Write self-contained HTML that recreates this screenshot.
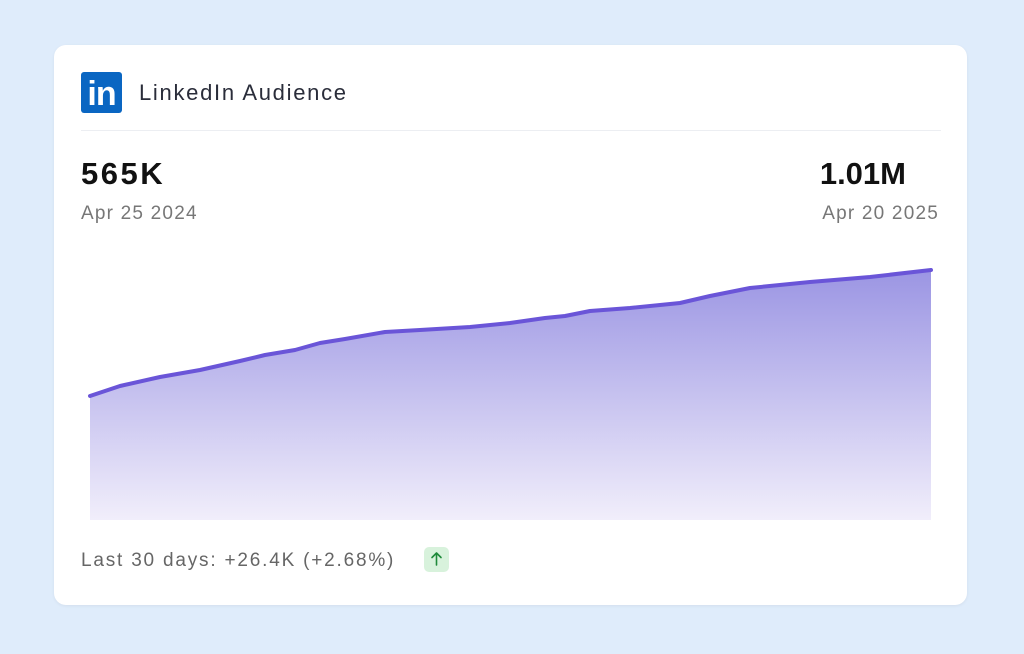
<!DOCTYPE html>
<html><head><style>
body{margin:0;width:1024px;height:654px;background:#dfecfb;font-family:"Liberation Sans",sans-serif;position:relative;overflow:hidden}
.card{position:absolute;left:54px;top:45px;width:913px;height:560px;background:#fff;border-radius:12px;box-shadow:0 1px 3px rgba(0,0,0,.06)}
.t{position:absolute;white-space:nowrap}
</style></head><body>
<div class="card"></div>
<div class="t" style="left:81px;top:72px;width:41px;height:41px;background:#0a66c2;border-radius:3px;color:#fff;font:bold 34px 'Liberation Sans';line-height:44px;text-align:center;letter-spacing:-1px">in</div>
<div class="t" style="left:139px;top:80px;font-size:22px;color:#2a2d3a;letter-spacing:1.7px">LinkedIn Audience</div>
<div style="position:absolute;left:81px;top:130px;width:860px;height:1px;background:#eceef2"></div>
<div class="t" style="left:81px;top:156px;font-size:31px;font-weight:bold;color:#111;letter-spacing:2.5px">565K</div>
<div class="t" style="left:81px;top:203px;font-size:19px;color:#777;letter-spacing:1.2px">Apr 25 2024</div>
<div class="t" style="right:118px;top:156px;font-size:31px;font-weight:bold;color:#111">1.01M</div>
<div class="t" style="right:85px;top:203px;font-size:19px;color:#777;letter-spacing:1.2px">Apr 20 2025</div>
<svg style="position:absolute;left:0;top:0" width="1024" height="654">
<defs><linearGradient id="g" x1="0" y1="0" x2="0" y2="1" gradientUnits="objectBoundingBox">
<stop offset="0" stop-color="#9b95e3"/><stop offset="1" stop-color="#f1eefb"/></linearGradient></defs>
<path d="M90,396 L120,386 160,377 200,370 240,361 265,355 295,350 320,343 345,339 385,332 420,330 470,327 510,323 545,318 565,316 590,311 630,308 680,303 710,296 750,288 810,282 870,277 931,270 L931,520 L90,520 Z" fill="url(#g)"/>
<path d="M90,396 L120,386 160,377 200,370 240,361 265,355 295,350 320,343 345,339 385,332 420,330 470,327 510,323 545,318 565,316 590,311 630,308 680,303 710,296 750,288 810,282 870,277 931,270" fill="none" stroke="#6a55d8" stroke-width="4" stroke-linejoin="round" stroke-linecap="round"/>
<rect x="424" y="547" width="25" height="25" rx="5" fill="#d8f2dc"/>
<path d="M436.5,565 V553 M432,557.5 L436.5,553 L441,557.5" fill="none" stroke="#1f8a3a" stroke-width="1.6" stroke-linecap="round" stroke-linejoin="round"/>
</svg>
<div class="t" style="left:81px;top:550px;font-size:19px;color:#666;letter-spacing:1.8px">Last 30 days: +26.4K (+2.68%)</div>
</body></html>
